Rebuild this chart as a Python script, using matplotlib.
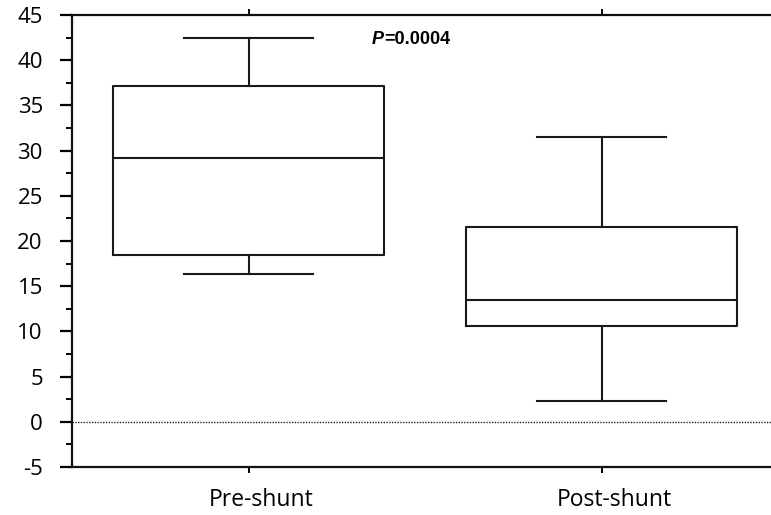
import matplotlib.pyplot as plt
from matplotlib.ticker import MultipleLocator
from matplotlib.transforms import offset_copy, ScaledTranslation

# --- data ---
groups = ["Pre-shunt", "Post-shunt"]
whisker_low = [16.4, 2.3]
q1 = [18.5, 10.6]
median = [29.2, 13.5]
q3 = [37.2, 21.6]
whisker_high = [42.4, 31.5]
p_text = "=0.0004"

plt.rcParams['font.family'] = ['Open Sans', 'DejaVu Sans']
plt.rcParams['axes.unicode_minus'] = False

fig = plt.figure(figsize=(7.71, 5.15), dpi=100)
ax = fig.add_axes([0.0934, 0.0932, 0.9157, 0.8777])

stats = []
for i, name in enumerate(groups):
    stats.append({
        "label": name,
        "whislo": whisker_low[i],
        "q1": q1[i],
        "med": median[i],
        "q3": q3[i],
        "whishi": whisker_high[i],
        "fliers": [],
    })

line_kw = dict(color="#1a1a1a", linewidth=1.5)
ax.bxp(stats, positions=[1, 2], widths=0.765, capwidths=0.368,
       showfliers=False, boxprops=line_kw, medianprops=line_kw,
       whiskerprops=line_kw, capprops=line_kw)

# zero reference line
ax.axhline(0, color="#222222", linestyle=(0, (1, 1)), linewidth=1.0)

ax.set_xlim(0.5, 2.5)
ax.set_ylim(-5, 45)
ax.yaxis.set_major_locator(MultipleLocator(5))
ax.yaxis.set_minor_locator(MultipleLocator(2.5))

ax.spines['right'].set_visible(False)
for s in ['left', 'bottom', 'top']:
    ax.spines[s].set_linewidth(1.6)
    ax.spines[s].set_color("#111111")

ax.tick_params(axis='y', which='major', direction='out', length=9, width=1.6,
               labelsize=16, pad=12)
ax.tick_params(axis='y', which='minor', direction='out', length=4, width=1.4)
ax.tick_params(axis='x', which='major', direction='out', length=4, width=1.4,
               top=True, labelsize=16.5, pad=11)
ax.set_xticks([1, 2])
ax.set_xticklabels(groups)

# the category labels sit a little right of their ticks
shift = ScaledTranslation(13 / 100, 0, fig.dpi_scale_trans)
for lab in ax.get_xticklabels():
    lab.set_transform(lab.get_transform() + shift)

# significance label: italic P followed by the value
t1 = ax.text(1.35, 42.3, "P", fontstyle='italic', fontweight='bold', fontsize=13,
             family='Liberation Sans', ha='left', va='center')
fig.canvas.draw()
w = t1.get_window_extent().width
ax.text(1.35, 42.3, p_text, fontweight='bold', fontsize=13,
        family='Liberation Sans', ha='left', va='center',
        transform=offset_copy(ax.transData, fig=fig, x=w, y=0, units='dots'))

fig.savefig("out.png", dpi=100)
